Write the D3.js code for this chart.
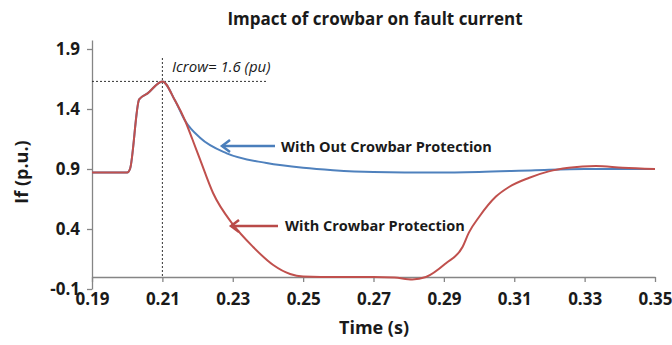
<!DOCTYPE html>
<html>
<head>
<meta charset="utf-8">
<script src="https://cdn.jsdelivr.net/npm/d3@7"></script>
<style>
  body { margin: 0; background: #fff; }
  text { font-family: 'Open Sans', 'Liberation Sans', sans-serif; fill: #1a1a1a; }
</style>
</head>
<body>
<svg width="672" height="345"></svg>
<script>
// time (s) and fault current (p.u.)
var redTime = [0.19, 0.2, 0.2008, 0.2034, 0.2058, 0.21, 0.2136, 0.2165, 0.2185, 0.2207, 0.2244, 0.23, 0.2358,
  0.2415, 0.2463, 0.25, 0.26, 0.27, 0.276, 0.281, 0.2849, 0.2906, 0.2953, 0.2971, 0.3, 0.3048, 0.3085,
  0.3141, 0.3198, 0.3255, 0.3332, 0.3408, 0.35]
var redValue = [0.87, 0.87, 0.9, 1.48, 1.53, 1.63, 1.47, 1.30, 1.15, 0.98, 0.70, 0.44, 0.25,
  0.10, 0.025, 0.005, 0.0, 0.0, -0.005, -0.02, 0.0, 0.115, 0.25, 0.37, 0.5, 0.67, 0.75,
  0.825, 0.88, 0.91, 0.925, 0.91, 0.9]

var blueTime = [0.19, 0.2, 0.2008, 0.2034, 0.2058, 0.21, 0.2136, 0.2165, 0.2207, 0.2283, 0.2396, 0.25,
  0.2585, 0.27, 0.2877, 0.3, 0.316, 0.33, 0.35]
var blueValue = [0.87, 0.87, 0.9, 1.48, 1.53, 1.63, 1.47, 1.30, 1.16, 1.03, 0.95, 0.91,
  0.89, 0.875, 0.87, 0.875, 0.89, 0.9, 0.9]

var xTicks = [0.19, 0.21, 0.23, 0.25, 0.27, 0.29, 0.31, 0.33, 0.35]
var yTicks = [-0.1, 0.4, 0.9, 1.4, 1.9]
var icrow = { t: 0.21, v: 1.63 }

var svg = d3.select('svg')
var x = d3.scaleLinear().domain([0.19, 0.35]).range([92, 655])
var y = d3.scaleLinear().domain([-0.1, 1.975]).range([289, 40])

var axisColor = '#858585'

svg.append('text')
    .attr('x', 375).attr('y', 25)
    .attr('text-anchor', 'middle')
    .style('font-size', '17px').style('font-weight', 'bold')
    .text('Impact of crowbar on fault current')

// y axis
var gy = svg.append('g')
    .attr('transform', 'translate(' + x(0.19) + ',0)')
    .call(d3.axisLeft(y).tickValues(yTicks).tickSizeInner(5).tickSizeOuter(0).tickPadding(7)
      .tickFormat(function (d) { return d.toFixed(1) }))
gy.selectAll('path, line').attr('stroke', axisColor).attr('stroke-width', 1.3)
gy.selectAll('text').style('font-size', '17px').style('font-weight', 'bold').attr('fill', '#1a1a1a')

// x axis sits at zero, labels below the plot
var gx = svg.append('g')
    .attr('transform', 'translate(0,' + y(0) + ')')
    .call(d3.axisBottom(x).tickValues(xTicks).tickSizeInner(5).tickSizeOuter(0).tickPadding(11)
      .tickFormat(function (d) { return d.toFixed(2) }))
gx.selectAll('path, line').attr('stroke', axisColor).attr('stroke-width', 1.3)
gx.selectAll('text').style('font-size', '17px').style('font-weight', 'bold').attr('fill', '#1a1a1a')

svg.append('text')
    .attr('transform', 'translate(28,172) rotate(-90)')
    .attr('text-anchor', 'middle')
    .style('font-size', '18px').style('font-weight', 'bold')
    .text('If (p.u.)')

svg.append('text')
    .attr('x', 374).attr('y', 334)
    .attr('text-anchor', 'middle')
    .style('font-size', '18px').style('font-weight', 'bold')
    .text('Time (s)')

// dotted guides at the crowbar peak
svg.append('line')
    .attr('x1', x(icrow.t)).attr('x2', x(icrow.t))
    .attr('y1', 58).attr('y2', y(0))
    .attr('stroke', '#333').attr('stroke-width', 1).attr('stroke-dasharray', '2,2')
svg.append('line')
    .attr('x1', x(0.19)).attr('x2', 267)
    .attr('y1', y(icrow.v)).attr('y2', y(icrow.v))
    .attr('stroke', '#333').attr('stroke-width', 1).attr('stroke-dasharray', '2,2')
svg.append('text')
    .attr('x', 172).attr('y', 72)
    .style('font-size', '15px').style('font-style', 'italic')
    .text('Icrow= 1.6 (pu)')

var line = d3.line()
    .x(function (d) { return x(d[0]) })
    .y(function (d) { return y(d[1]) })
    .curve(d3.curveMonotoneX)

svg.append('path')
    .datum(d3.zip(blueTime, blueValue))
    .attr('fill', 'none')
    .attr('stroke', '#4f81bd')
    .attr('stroke-width', 2)
    .attr('d', line)

svg.append('path')
    .datum(d3.zip(redTime, redValue))
    .attr('fill', 'none')
    .attr('stroke', '#c0504d')
    .attr('stroke-width', 2)
    .attr('d', line)

// annotation arrows
function arrow (x1, x2, yy, color) {
  svg.append('line')
      .attr('x1', x1).attr('x2', x2).attr('y1', yy).attr('y2', yy)
      .attr('stroke', color).attr('stroke-width', 2.5)
  svg.append('path')
      .attr('d', 'M' + (x2 + 8) + ',' + (yy - 6) + 'L' + x2 + ',' + yy + 'L' + (x2 + 8) + ',' + (yy + 6))
      .attr('fill', 'none').attr('stroke', color).attr('stroke-width', 2.5)
}
arrow(275, 222, 146, '#4a7ebb')
arrow(278, 231, 226, '#b94a48')

svg.append('text')
    .attr('x', 281).attr('y', 152)
    .style('font-size', '14.5px').style('font-weight', 'bold')
    .text('With Out Crowbar Protection')
svg.append('text')
    .attr('x', 285).attr('y', 231)
    .style('font-size', '14.5px').style('font-weight', 'bold')
    .text('With Crowbar Protection')
</script>
</body>
</html>
